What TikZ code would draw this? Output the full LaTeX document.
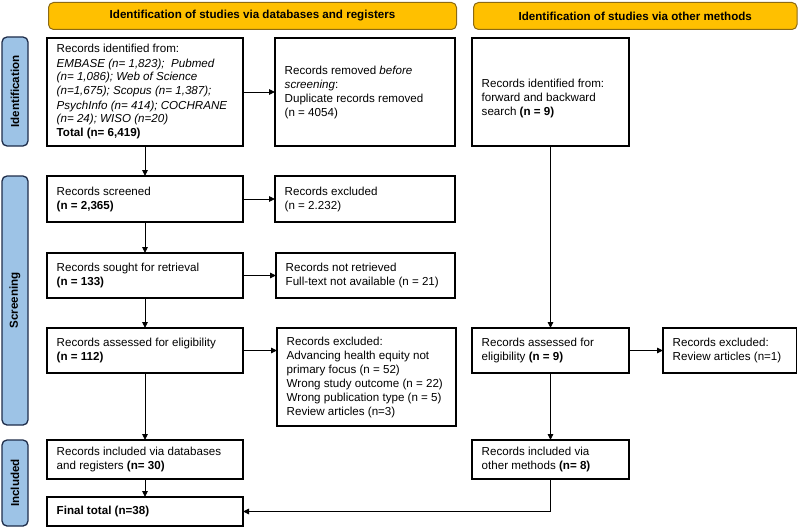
\documentclass[tikz,border=0pt]{standalone}
\usepackage{fontspec}
\setmainfont{Liberation Sans}
\usetikzlibrary{arrows.meta,calc}
\definecolor{hdrfill}{HTML}{FFC000}
\definecolor{hdrline}{HTML}{8C6A14}
\definecolor{sidefill}{HTML}{9DC3E6}
\definecolor{sideline}{HTML}{1F2D4A}
\newcommand{\fs}{\fontsize{11.6}{14}\selectfont}
\newcommand{\prbox}[6]{%
  \node[pbox, minimum width=#4pt, minimum height=#5pt] (#1) at (#2,#3) {};
  \node[ptxt] (#1t) at ([xshift=9.5pt]#1.west) {#6};
}
\tikzset{
  pbox/.style={draw, line width=1.3pt, anchor=north west, inner sep=0pt, outer sep=0pt},
  ptxt/.style={anchor=west, align=left, inner sep=0pt, font=\fs},
  hdr/.style={draw=hdrline, fill=hdrfill, line width=1pt, rounded corners=5pt, font=\fs\bfseries, inner sep=0pt, anchor=north west},
  side/.style={draw=sideline, fill=sidefill, line width=1.3pt, rounded corners=5pt, font=\fs\bfseries, inner sep=0pt, rotate=90},
  conn/.style={line width=0.9pt, -{Triangle[length=6pt,width=5.5pt]}},
  plain/.style={line width=0.9pt}
}
\begin{document}
\begin{tikzpicture}[x=1pt,y=-1pt]
\useasboundingbox (0,0) rectangle (798,527);
% headers
\node[hdr, minimum width=408pt, minimum height=27pt] (h1) at (48,2) {Identification of studies via databases and registers};
\node[hdr, minimum width=323.5pt, minimum height=27pt] (h2) at (473,2) {Identification of studies via other methods};
% side labels
\node[side, minimum width=109pt, minimum height=26pt] (s1) at (15,91.5) {Identification};
\node[side, minimum width=249pt, minimum height=26pt] (s2) at (15,300.5) {Screening};
\node[side, minimum width=86pt, minimum height=26pt] (s3) at (15,483) {Included};
% boxes
\prbox{a}{47}{38}{196}{108}{Records identified from:\\ \textit{EMBASE (n= 1,823);\ \ Pubmed}\\ \textit{(n= 1,086); Web of Science}\\ \textit{(n=1,675); Scopus (n= 1,387);}\\ \textit{PsychInfo (n= 414); COCHRANE}\\ \textit{(n= 24); WISO (n=20)}\\ \textbf{Total (n= 6,419)}}
\prbox{b}{275}{38}{180}{108}{Records removed \textit{before}\\ \textit{screening}:\\ Duplicate records removed\\ (n = 4054)}
\node[pbox, minimum width=157pt, minimum height=108pt] (c) at (472,38) {};
\node[ptxt] (ct) at ([xshift=9.5pt,yshift=-7pt]c.west) {Records identified from:\\ forward and backward\\ search \textbf{(n = 9)}};
\prbox{scr}{47}{176}{196}{46}{Records screened\\ \textbf{(n = 2,365)}}
\prbox{exc}{275}{176}{180}{46}{Records excluded\\ (n = 2.232)}
\prbox{sou}{47}{253}{196}{45}{Records sought for retrieval\\ \textbf{(n = 133)}}
\prbox{nrt}{276}{253}{179}{45}{Records not retrieved\\ Full-text not available (n = 21)}
\prbox{ass}{47}{328}{196}{45}{Records assessed for eligibility\\ \textbf{(n = 112)}}
\prbox{exe}{277}{328}{179}{98}{Records excluded:\\ Advancing health equity not\\ primary focus (n = 52)\\ Wrong study outcome (n = 22)\\ Wrong publication type (n = 5)\\ Review articles (n=3)}
\prbox{oas}{472}{328}{157}{45}{Records assessed for\\ eligibility \textbf{(n = 9)}}
\prbox{oex}{663}{328}{133.5}{45}{Records excluded:\\ Review articles (n=1)}
\prbox{idb}{47}{440}{196}{39}{Records included via databases\\ and registers \textbf{(n= 30)}}
\prbox{fin}{47}{497}{196}{29}{\textbf{Final total (n=38)}}
\prbox{ioth}{472}{440}{157}{39}{Records included via\\ other methods \textbf{(n= 8)}}
% connectors
\draw[conn] (a) -- (scr);
\draw[conn] (scr) -- (sou);
\draw[conn] (sou) -- (ass);
\draw[conn] (ass) -- (idb);
\draw[conn] (idb) -- (fin);
\draw[conn] (a.east) -- (b.west);
\draw[conn] (scr.east) -- (exc.west);
\draw[conn] (sou.east) -- (nrt.west);
\draw[conn] (ass.east) -- (ass.east -| exe.west);
\draw[conn] (c) -- (oas);
\draw[conn] (oas.east) -- (oex.west);
\draw[conn] (oas) -- (ioth);
\draw[conn] (ioth.south) |- (fin.east);
\end{tikzpicture}
\end{document}
